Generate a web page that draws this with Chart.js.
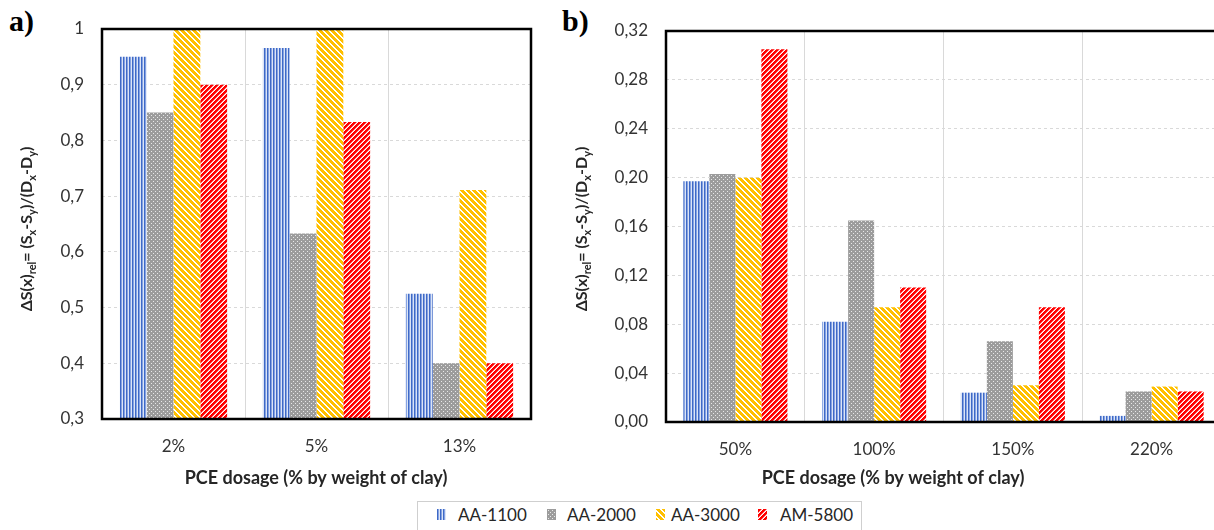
<!DOCTYPE html>
<html>
<head>
<meta charset="utf-8">
<script src="https://cdn.jsdelivr.net/npm/chart.js"></script>
<style>
  html, body { margin: 0; padding: 0; background: #fff; }
  body { width: 1214px; height: 530px; overflow: hidden; position: relative; font-family: Lato, "Open Sans", sans-serif; }
  canvas.chart { position: absolute; top: 0; }
  #ca { left: 0; }
  #cb { left: 560px; }
  .tag { position: absolute; top: 4px; font: bold 30px "Liberation Serif", "Times New Roman", serif; color: #000; }
  #legend { position: absolute; left: 417px; top: 501px; width: 445px; height: 40px; border: 1px solid #cfcfcf; box-sizing: border-box; }
  .sw { position: absolute; top: 509px; }
  .lt { position: absolute; top: 505px; font-size: 17px; line-height: 20px; color: #262626; }
</style>
</head>
<body>
<div class="tag" style="left:9px">a)</div>
<div class="tag" style="left:562px">b)</div>
<canvas id="ca" class="chart" width="545" height="500"></canvas>
<canvas id="cb" class="chart" width="680" height="500"></canvas>
<div id="legend"></div>

<script>
/* ---- data ---- */
const SERIES = ['AA-1100', 'AA-2000', 'AA-3000', 'AM-5800'];

const A_CATS = ['2%', '5%', '13%'];
const A_1100 = [0.95, 0.966, 0.525];
const A_2000 = [0.85, 0.633, 0.40];
const A_3000 = [1.00, 1.00, 0.711];
const A_5800 = [0.90, 0.833, 0.40];
const A_TICKS = ['0,3', '0,4', '0,5', '0,6', '0,7', '0,8', '0,9', '1'];

const B_CATS = ['50%', '100%', '150%', '220%'];
const B_1100 = [0.197, 0.082, 0.024, 0.005];
const B_2000 = [0.203, 0.165, 0.066, 0.025];
const B_3000 = [0.200, 0.094, 0.030, 0.029];
const B_5800 = [0.305, 0.110, 0.094, 0.025];
const B_TICKS = ['0,00', '0,04', '0,08', '0,12', '0,16', '0,20', '0,24', '0,28', '0,32'];

const X_TITLE = 'PCE dosage (% by weight of clay)';
// [text, isSubscript]
const Y_TITLE = [['ΔS(x)', 0], ['rel', 1], ['= (S', 0], ['x', 1], ['-S', 0], ['y', 1],
                 [')/(D', 0], ['x', 1], ['-D', 0], ['y', 1], [')', 0]];

/* ---- fill patterns (Excel style) ---- */
function makeTile(w, h, fn) {
  const c = document.createElement('canvas');
  c.width = w; c.height = h;
  const g = c.getContext('2d');
  for (let y = 0; y < h; y++) for (let x = 0; x < w; x++) {
    g.fillStyle = fn(x, y);
    g.fillRect(x, y, 1, 1);
  }
  return c;
}
const TILES = [
  makeTile(3, 1, x => ['#3e69c6', '#86a3e2', '#dbe4f6'][x]),
  makeTile(4, 4, (x, y) => (x % 2 === 1 && y % 2 === 1 && (x + y) % 4 === 2) ? '#e8e8e8' : '#9c9c9c'),
  makeTile(6, 6, (x, y) => ((x - y + 6) % 6) < 4 ? '#ffc000' : '#ffffff'),
  makeTile(5, 5, (x, y) => ((x + y) % 5) < 3 ? '#ff0000' : ((x + y) % 5 === 3 ? '#ff9a9a' : '#ffffff')),
];

/* ---- frame + axis titles ---- */
const frame = {
  id: 'frame',
  afterDraw(chart, args, o) {
    const { ctx, chartArea: a } = chart;
    ctx.save();
    ctx.strokeStyle = '#000';
    ctx.lineWidth = 2.5;
    ctx.strokeRect(a.left, a.top, a.right - a.left, a.bottom - a.top);

    ctx.fillStyle = '#262626';
    ctx.font = 'bold 18px Lato, "Open Sans", sans-serif';
    ctx.textAlign = 'center';
    ctx.textBaseline = 'middle';
    ctx.fillText(X_TITLE, o.xtx, o.xty);

    // rotated y title with subscripts
    const big = 'bold 16px Lato, "Open Sans", sans-serif';
    const small = 'bold 11px Lato, "Open Sans", sans-serif';
    ctx.textAlign = 'left';
    ctx.textBaseline = 'alphabetic';
    let total = 0;
    Y_TITLE.forEach(([t, sub]) => { ctx.font = sub ? small : big; total += ctx.measureText(t).width; });
    ctx.translate(o.ytx, o.yty);
    ctx.rotate(-Math.PI / 2);
    let x = -total / 2;
    Y_TITLE.forEach(([t, sub]) => {
      ctx.font = sub ? small : big;
      ctx.fillText(t, x, sub ? 9 : 5);
      x += ctx.measureText(t).width;
    });
    ctx.restore();
  }
};

function makeChart(id, cats, series, ticks, yMin, yMax, step, lay) {
  const canvas = document.getElementById(id);
  const ctx = canvas.getContext('2d');
  const pats = TILES.map(t => ctx.createPattern(t, 'repeat'));
  const tickFont = { family: 'Lato, "Open Sans", sans-serif', size: 17 };
  return new Chart(ctx, {
    type: 'bar',
    data: {
      labels: cats,
      datasets: series.map((d, i) => ({
        label: SERIES[i], data: d, backgroundColor: pats[i], borderWidth: 0,
        categoryPercentage: 0.75, barPercentage: 1,
      })),
    },
    options: {
      responsive: false,
      animation: false,
      devicePixelRatio: 1,
      layout: { padding: { top: lay.top, right: lay.right, left: 0, bottom: 0 } },
      scales: {
        x: {
          grid: { color: '#d9d9d9', drawTicks: false, offset: true },
          border: { display: false },
          ticks: { padding: 17, color: '#333', font: tickFont },
          afterFit: s => { s.height = lay.xh; },
        },
        y: {
          min: yMin, max: yMax,
          grid: { color: '#d9d9d9', drawTicks: false },
          border: { display: false, dash: [3, 3] },
          ticks: { stepSize: step, padding: 18, color: '#333', font: tickFont,
                   callback: (v, i) => ticks[i] },
          afterFit: s => { s.width = lay.yw; },
        },
      },
      plugins: {
        legend: { display: false },
        tooltip: { enabled: false },
        frame: lay.titles,
      },
    },
    plugins: [frame],
  });
}

makeChart('ca', A_CATS, [A_1100, A_2000, A_3000, A_5800], A_TICKS, 0.3, 1, 0.1,
  { top: 29, right: 14, xh: 81, yw: 102, titles: { xtx: 316, xty: 478, ytx: 27, yty: 229 } });

makeChart('cb', B_CATS, [B_1100, B_2000, B_3000, B_5800], B_TICKS, 0, 0.32, 0.04,
  { top: 31, right: 19, xh: 78, yw: 106, titles: { xtx: 333, xty: 478, ytx: 22, yty: 229 } });

/* ---- shared legend ---- */
const LEG_POS = [[437, 458], [547, 567], [656, 671], [758, 780]];
SERIES.forEach((name, i) => {
  const sw = document.createElement('canvas');
  sw.width = 9; sw.height = 11;
  sw.className = 'sw';
  sw.style.left = LEG_POS[i][0] + 'px';
  const g = sw.getContext('2d');
  g.fillStyle = g.createPattern(TILES[i], 'repeat');
  g.fillRect(0, 0, 9, 11);
  document.body.appendChild(sw);
  const t = document.createElement('div');
  t.className = 'lt';
  t.style.left = LEG_POS[i][1] + 'px';
  t.textContent = name;
  document.body.appendChild(t);
});
</script>
</body>
</html>
